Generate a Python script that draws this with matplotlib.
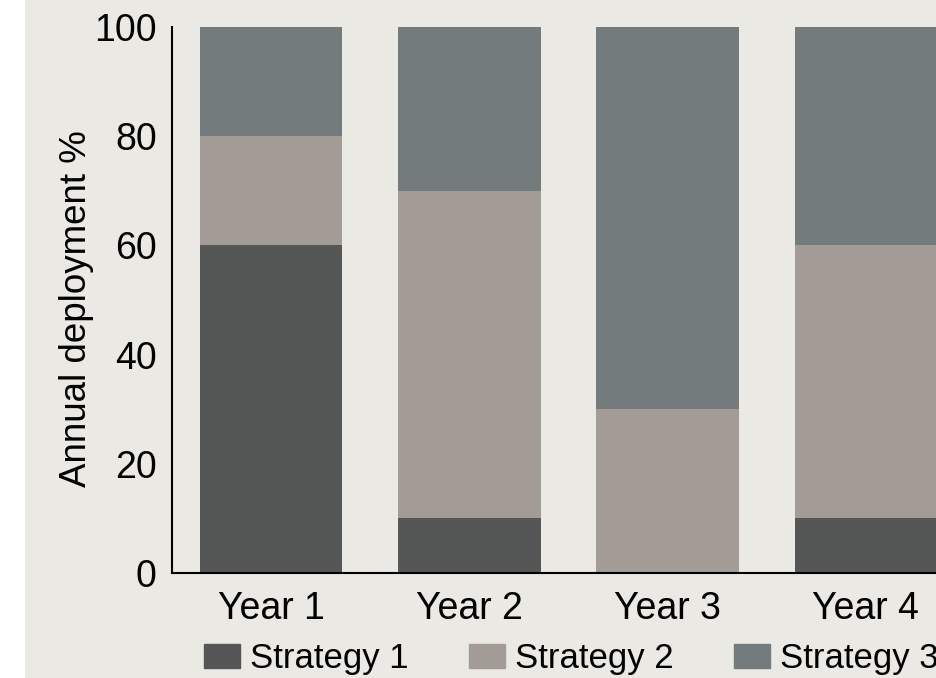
import matplotlib.pyplot as plt
import matplotlib.patches as mpatches
import numpy as np

# data
years = ["Year 1", "Year 2", "Year 3", "Year 4"]
strategy_1 = [60, 10, 0, 10]
strategy_2 = [20, 60, 30, 50]
strategy_3 = [20, 30, 70, 40]
labels = ["Strategy 1", "Strategy 2", "Strategy 3"]
yticks = [0, 20, 40, 60, 80, 100]

colors = ["#555756", "#a39b95", "#737b7c"]
bg = "#ebe9e4"

plt.rcParams["font.family"] = ["Liberation Sans", "DejaVu Sans"]

fig = plt.figure(figsize=(9.37, 6.78), dpi=100, facecolor="white")
# beige panel (the reference has a thin white strip on the left)
fig.patches.append(mpatches.Rectangle((25 / 937, 0), 1, 1, transform=fig.transFigure,
                                      facecolor=bg, edgecolor="none", zorder=-10))

# axes run past the right edge, the reference is cropped there
ax = fig.add_axes([172 / 937, 105 / 678, 793 / 937, 546 / 678])
ax.patch.set_alpha(0)

x = np.arange(len(years))
bottom = np.zeros(len(years))
for vals, col, lab in zip([strategy_1, strategy_2, strategy_3], colors, labels):
    ax.bar(x, vals, width=0.72, bottom=bottom, color=col, label=lab, zorder=2)
    bottom += np.array(vals)

ax.set_xlim(-0.5, 3.5)
ax.set_ylim(0, 100)
ax.set_yticks(yticks)
ax.set_xticks(x)
ax.set_xticklabels(years)

for s in ["top", "right"]:
    ax.spines[s].set_visible(False)
ax.spines["left"].set_linewidth(1.5)
ax.spines["bottom"].set_linewidth(1.5)
ax.spines["bottom"].set_zorder(3)

ax.tick_params(axis="y", length=0, pad=11, labelsize=27)
ax.tick_params(axis="x", length=0, pad=13, labelsize=27)
ax.set_ylabel("Annual deployment %", fontsize=26.5)
ax.yaxis.set_label_coords(-0.098, 0.484)

handles = [mpatches.Patch(color=c) for c in colors]
fig.legend(handles, labels, loc="upper left", bbox_to_anchor=(204 / 937, 1 - 642 / 678),
           ncol=3, frameon=False, fontsize=25, borderpad=0, borderaxespad=0,
           handlelength=1.04, handleheight=0.66, handletextpad=0.29, columnspacing=1.73)

fig.savefig("out.png", dpi=100, facecolor=fig.get_facecolor())
